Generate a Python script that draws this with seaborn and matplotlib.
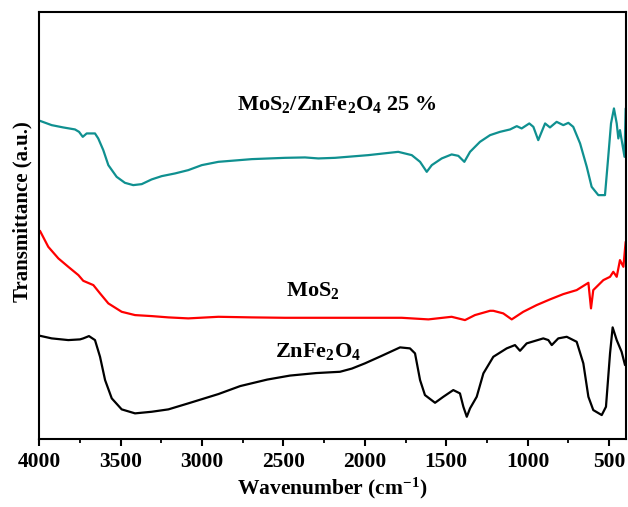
import matplotlib
matplotlib.use("Agg")
import matplotlib.pyplot as plt
import seaborn as sns
import pandas as pd
from matplotlib.ticker import MultipleLocator

# ---- data (wavenumber cm^-1, transmittance a.u.) ----
teal_wn = [3996, 3924, 3853, 3781, 3756, 3733, 3709, 3658, 3638, 3607, 3576, 3525, 3474, 3423,
           3371, 3310, 3248, 3166, 3085, 3002, 2900, 2695, 2491, 2368, 2286, 2183, 1979, 1795,
           1712, 1661, 1620, 1589, 1528, 1467, 1426, 1389, 1354, 1293, 1231, 1170, 1108, 1067,
           1037, 990, 965, 935, 893, 863, 822, 781, 750, 720, 678, 637, 607, 566, 525, 505,
           488, 470, 453, 443, 433, 405, 398]
teal_t = [318.3, 314, 311.7, 309.7, 307.3, 302.3, 305.7, 305.7, 300.7, 289, 274, 262.3, 256.3, 254,
          255, 259.7, 263, 265.7, 269, 274, 277.3, 280, 281.3, 281.7, 280.7, 281.3, 284, 287.3,
          284, 277.3, 267.3, 274, 280.7, 284.7, 283.3, 277.3, 287.3, 297.3, 304, 307.3, 309.7, 313,
          310.7, 315.7, 312.3, 299, 315.7, 311.7, 317.3, 314, 316.3, 312.3, 295.7, 272.3, 252.3, 244, 244, 282.3,
          315.7, 330.7, 315.7, 300.7, 309, 282.3, 330.7]

red_wn = [3996, 3945, 3883, 3822, 3760, 3730, 3668, 3627, 3576, 3494, 3412, 3310, 3207, 3085,
          2900, 2695, 2491, 2183, 1774, 1610, 1467, 1385, 1324, 1231, 1211, 1150, 1098, 1027,
          945, 863, 781, 699, 627, 611, 597, 535, 494, 474, 453, 433, 412, 398]
red_t = [208.3, 192.3, 180.7, 172.3, 164, 158.3, 154, 145.7, 135.7, 127.3, 124, 123, 121.7, 120.7,
         122.3, 121.7, 121.3, 121.3, 121.3, 119.7, 122.3, 119, 124, 128.3, 128.3, 125.7, 119.7, 127.3,
         134, 139.7, 145, 149, 156.3, 130.7, 149, 159, 162.3, 167.3, 162.3, 179, 172.3, 197.3]

black_wn = [3996, 3924, 3822, 3750, 3730, 3695, 3658, 3627, 3596, 3555, 3494, 3412, 3310, 3207,
            3085, 2900, 2766, 2600, 2460, 2300, 2153, 2080, 2000, 1900, 1784, 1723, 1692, 1661,
            1631, 1569, 1518, 1457, 1416, 1395, 1374, 1354, 1313, 1272, 1211, 1129, 1078, 1047,
            1006, 904, 873, 852, 812, 760, 699, 658, 627, 597, 545, 519, 494, 478, 453, 423, 402]
black_t = [103.3, 100.7, 99, 99.7, 100.7, 103, 99, 82.3, 59, 40.7, 29.7, 25.7, 27.3, 29.7,
           35.7, 45, 53, 59.5, 63.5, 66, 67.3, 70.5, 75.7, 83, 91.7, 90.7, 85.7, 59,
           44, 36.3, 42.3, 49, 45.7, 32.3, 22.3, 30.7, 42.3, 65.7, 82.3, 90.7, 94, 88.3,
           95.7, 100.7, 99, 94, 100.7, 102.3, 97.3, 75.7, 42.3, 29, 24, 32.3, 85.7, 111.7, 99, 87.3, 74]

labels = [r"MoS$_2$/ZnFe$_2$O$_4$ 25 %", r"MoS$_2$", r"ZnFe$_2$O$_4$"]
xticks = [4000, 3500, 3000, 2500, 2000, 1500, 1000, 500]

# ---- style ----
sns.set_style("ticks")
plt.rcParams["font.family"] = ["Liberation Serif", "DejaVu Serif"]
plt.rcParams["font.weight"] = "bold"
plt.rcParams["text.color"] = "black"
plt.rcParams["axes.labelcolor"] = "black"
plt.rcParams["xtick.color"] = "black"
plt.rcParams["mathtext.fontset"] = "custom"
plt.rcParams["mathtext.rm"] = "Liberation Serif:bold"
plt.rcParams["mathtext.it"] = "Liberation Serif:bold"
plt.rcParams["mathtext.bf"] = "Liberation Serif:bold"
plt.rcParams["mathtext.default"] = "rm"

fig = plt.figure(figsize=(6.28, 5.07), dpi=100)
ax = fig.add_axes([0.0626, 0.134, 0.9342, 0.842])

teal_df = pd.DataFrame({"wn": teal_wn, "t": teal_t})
red_df = pd.DataFrame({"wn": red_wn, "t": red_t})
black_df = pd.DataFrame({"wn": black_wn, "t": black_t})

sns.lineplot(data=teal_df, x="wn", y="t", color="#0f9090", lw=1.6, ax=ax, sort=False)
sns.lineplot(data=red_df, x="wn", y="t", color="#ff0000", lw=1.6, ax=ax, sort=False)
sns.lineplot(data=black_df, x="wn", y="t", color="#000000", lw=1.6, ax=ax, sort=False)

ax.set_xlim(4000, 396)
ax.set_ylim(0, 427)
ax.set_xticks(xticks)
ax.xaxis.set_minor_locator(MultipleLocator(250))
ax.set_yticks([])
ax.tick_params(axis="x", which="major", direction="out", length=5, width=1.5,
               labelsize=15.5, pad=4, colors="black")
ax.tick_params(axis="x", which="minor", direction="out", length=3, width=1.3, colors="black")
for lab in ax.get_xticklabels():
    lab.set_fontweight("bold")
for sp in ax.spines.values():
    sp.set_visible(True)
    sp.set_linewidth(1.5)
    sp.set_color("black")

ax.set_xlabel(r"Wavenumber (cm$^{-1}$)", fontsize=15.5, fontweight="bold", labelpad=3)
ax.set_ylabel("Transmittance (a.u.)", fontsize=15, fontweight="bold")
ax.yaxis.set_label_coords(-0.012, 0.532)

ax.text(2171, 329, labels[0], ha="center", va="baseline", fontsize=16, fontweight="bold")
ax.text(2319, 143, labels[1], ha="center", va="baseline", fontsize=16, fontweight="bold")
ax.text(2288, 82.3, labels[2], ha="center", va="baseline", fontsize=16, fontweight="bold")

fig.savefig("out.png", dpi=100)
